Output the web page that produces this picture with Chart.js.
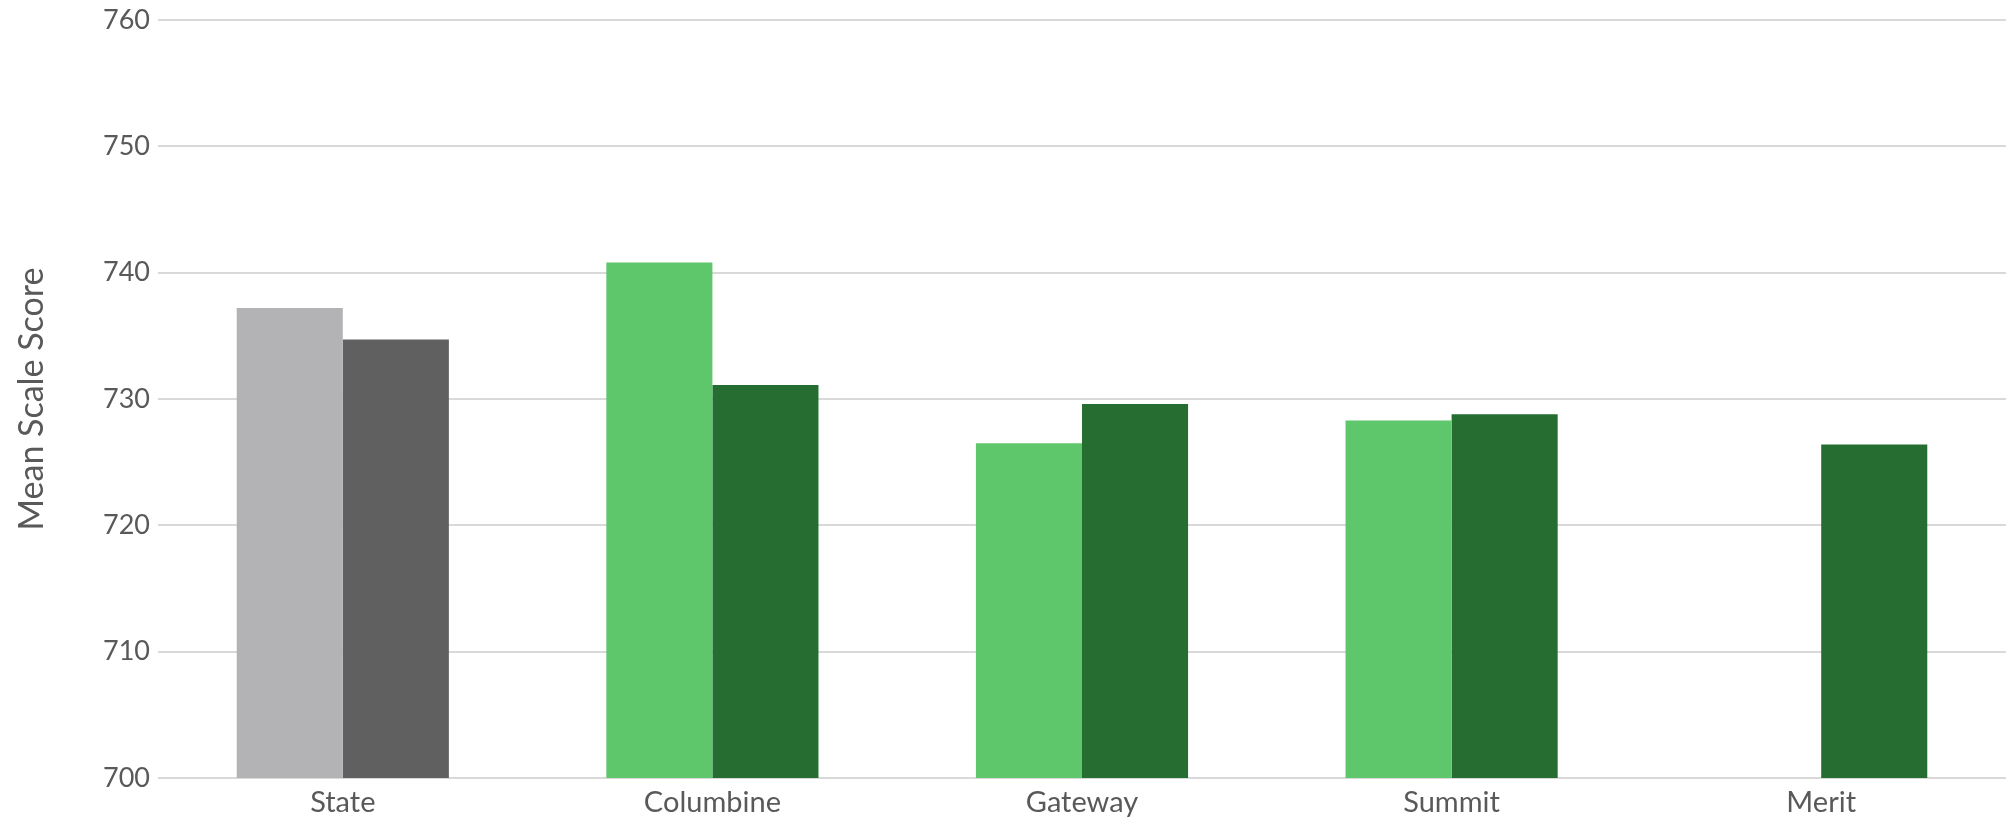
<!DOCTYPE html>
<html>
<head>
<meta charset="utf-8">
<title>Mean Scale Score</title>
<script src="https://cdn.jsdelivr.net/npm/chart.js@4/dist/chart.umd.min.js"></script>
<style>
    html, body { margin: 0; padding: 0; background: #ffffff; }
    #wrap { width: 2006px; height: 818px; position: relative; }
</style>
</head>
<body>
<div id="wrap"><canvas id="scoreChart"></canvas></div>
<script>
// Chart data
const categories = ['State', 'Columbine', 'Gateway', 'Summit', 'Merit'];
const priorScores = [737.2, 740.8, 726.5, 728.3, null];
const currentScores = [734.7, 731.1, 729.6, 728.8, 726.4];
const yTicks = [700, 710, 720, 730, 740, 750, 760];

// State bars are grey, schools are green
const priorColors = ['#b3b3b5', '#5ec66b', '#5ec66b', '#5ec66b', '#5ec66b'];
const currentColors = ['#606060', '#256d30', '#256d30', '#256d30', '#256d30'];

document.addEventListener('DOMContentLoaded', function() {
    const ctx = document.getElementById('scoreChart');

    new Chart(ctx, {
        type: 'bar',
        data: {
            labels: categories,
            datasets: [{
                label: 'Prior',
                data: priorScores,
                backgroundColor: priorColors,
                borderWidth: 0
            }, {
                label: 'Current',
                data: currentScores,
                backgroundColor: currentColors,
                borderWidth: 0
            }]
        },
        options: {
            responsive: true,
            maintainAspectRatio: false,
            animation: false,
            datasets: {
                bar: {
                    barPercentage: 1,
                    categoryPercentage: 0.574
                }
            },
            layout: {
                padding: { top: 20, right: 0, bottom: 0, left: 0 }
            },
            plugins: {
                legend: { display: false },
                tooltip: { enabled: false }
            },
            scales: {
                x: {
                    grid: { display: false, drawTicks: false },
                    border: { display: false },
                    ticks: {
                        color: '#595959',
                        padding: 7,
                        font: { family: 'Lato', size: 29 }
                    },
                    afterFit: function(scale) {
                        scale.height = 40;
                    }
                },
                y: {
                    min: 700,
                    max: 760,
                    afterBuildTicks: function(scale) {
                        scale.ticks = yTicks.map(v => ({ value: v }));
                    },
                    grid: {
                        color: '#d9d9d9',
                        lineWidth: 2,
                        drawTicks: false
                    },
                    border: { display: false },
                    ticks: {
                        color: '#595959',
                        padding: 8,
                        font: { family: 'Lato', size: 27 }
                    },
                    title: {
                        display: true,
                        text: 'Mean Scale Score',
                        color: '#595959',
                        padding: { top: 12, bottom: 0 },
                        font: { family: 'Lato', size: 34 }
                    },
                    afterFit: function(scale) {
                        scale.width = 158;
                        scale.paddingTop = 0;
                        scale.paddingBottom = 0;
                    }
                }
            }
        }
    });
});
</script>
</body>
</html>
